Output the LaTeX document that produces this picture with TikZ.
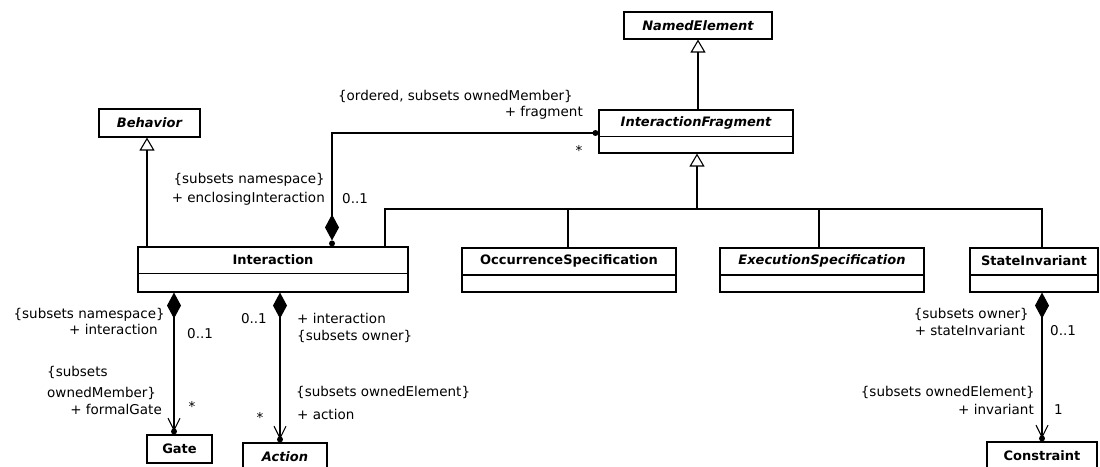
\documentclass[tikz,border=0pt]{standalone}
\usepackage{fontspec}
\setmainfont{DejaVu Sans}
\usetikzlibrary{arrows.meta,calc}
\begin{document}
\begin{tikzpicture}[x=1pt,y=-1pt,
  cls/.style={draw, line width=1.1pt, inner sep=0pt, fill=white},
  cname/.style={inner sep=0pt, font=\fontsize{13}{15}\selectfont\bfseries},
  aname/.style={inner sep=0pt, font=\fontsize{13}{15}\selectfont\bfseries\itshape},
  lbl/.style={inner sep=0pt, text height=9.5pt, text depth=3pt, font=\fontsize{13.5}{16}\selectfont},
  conn/.style={line width=1.1pt},
  gen/.style={conn, -{Triangle[open, length=13pt, width=15pt, line width=1.1pt]}},
  comp/.style={conn, {Diamond[length=26pt, width=14pt]}-{Straight Barb[length=12pt, width=12pt, line width=1.1pt]}, shorten >=3pt},
  dot/.style={circle, fill=black, inner sep=0pt, minimum size=6pt}
]
\useasboundingbox (0,0) rectangle (1100,466);

% ---------- classes ----------
\node[cls, minimum width=148pt, minimum height=27pt] (ne) at (698,25.5) {};
\node[aname] (net) at (ne.center) {NamedElement};

\node[cls, minimum width=101pt, minimum height=28pt] (beh) at (149.5,123) {};
\node[aname] (beht) at (beh.center) {Behavior};

\node[cls, minimum width=194pt, minimum height=43pt] (if) at (696,131.5) {};
\draw[line width=1.1pt] ([yshift=-27pt]if.north west) -- ([yshift=-27pt]if.north east);
\node[aname] (ift) at ([yshift=-13.5pt]if.north) {InteractionFragment};

\node[cls, minimum width=270pt, minimum height=45pt] (ia) at (273,269.5) {};
\draw[line width=1.1pt] ([yshift=-27pt]ia.north west) -- ([yshift=-27pt]ia.north east);
\node[cname] (iat) at ([yshift=-13.5pt]ia.north) {Interaction};

\node[cls, minimum width=214pt, minimum height=44pt] (os) at (569,270) {};
\draw[line width=1.1pt] ([yshift=-27.5pt]os.north west) -- ([yshift=-27.5pt]os.north east);
\node[cname] (ost) at ([yshift=-13.5pt]os.north) {OccurrenceSpecification};

\node[cls, minimum width=204pt, minimum height=44pt] (es) at (822,270) {};
\draw[line width=1.1pt] ([yshift=-27.5pt]es.north west) -- ([yshift=-27.5pt]es.north east);
\node[aname] (est) at ([yshift=-13.5pt]es.north) {ExecutionSpecification};

\node[cls, minimum width=128pt, minimum height=44pt] (si) at (1034,270) {};
\draw[line width=1.1pt] ([yshift=-27.5pt]si.north west) -- ([yshift=-27.5pt]si.north east);
\node[cname] (sit) at ([yshift=-13.5pt]si.north) {StateInvariant};

\node[cls, minimum width=65pt, minimum height=28pt] (ga) at (179.5,449) {};
\node[cname] (gat) at (ga.center) {Gate};

\node[cls, minimum width=84pt, minimum height=28pt] (ac) at (285,457) {};
\node[aname] (act) at (ac.center) {Action};

\node[cls, minimum width=110pt, minimum height=28pt] (co) at (1042,456) {};
\node[cname] (cot) at (co.center) {Constraint};

% ---------- generalizations ----------
\coordinate (bx) at (147,0);
\draw[gen] (ia.north -| bx) -- (beh.south -| bx);
\draw[gen] (ne.south |- if.north) -- (ne.south);

\coordinate (b0) at (697,209);
\coordinate (b1) at (385,209);
\coordinate (b2) at (568,209);
\coordinate (b3) at (819,209);
\coordinate (b4) at (1042,209);
\draw[gen] (b0) -- (b0 |- if.south);
\draw[conn] (b1 |- ia.north) -- (b1) -- (b4) -- (b4 |- si.north);
\draw[conn] (b2) -- (b2 |- os.north);
\draw[conn] (b3) -- (b3 |- es.north);

% ---------- fragment composition ----------
\coordinate (fx) at (332,133);
\node[dot] (fd1) at ([yshift=3pt]ia.north -| fx) {};
\node[dot] (fd2) at ([xshift=-3pt]if.west |- fx) {};
\draw[conn, {Diamond[length=26pt, width=14pt]}-, shorten <=3pt] (fd1.center) -- (fx) -- (fd2.center);

% ---------- gate composition ----------
\coordinate (gx) at (174,0);
\node[dot] (gd) at ([yshift=3pt]ga.north -| gx) {};
\draw[comp] (ia.south -| gx) -- (ga.north -| gx);

% ---------- action composition ----------
\coordinate (ax) at (280,0);
\node[dot] (ad) at ([yshift=3pt]ac.north -| ax) {};
\draw[comp] (ia.south -| ax) -- (ac.north -| ax);

% ---------- constraint composition ----------
\coordinate (cx) at (1042,0);
\node[dot] (cd) at ([yshift=3pt]co.north -| cx) {};
\draw[comp] (si.south -| cx) -- (co.north -| cx);

% ---------- labels ----------
\node[lbl, anchor=east] (l1) at (573,97) {\{ordered, subsets ownedMember\}};
\node[lbl, anchor=east] (l2) at (583,113) {+ fragment};
\node[lbl] (l3) at (579,152) {*};
\node[lbl, anchor=east] (l4) at (325,180) {\{subsets namespace\}};
\node[lbl, anchor=east] (l5) at (325,199) {+ enclosingInteraction};
\node[lbl, anchor=west] (l6) at (342,200) {0..1};

\node[lbl, anchor=east] (l7) at (165,315) {\{subsets namespace\}};
\node[lbl, anchor=east] (l8) at (158,331) {+ interaction};
\node[lbl, anchor=west] (l9) at (187,335) {0..1};
\node[lbl, anchor=west] (l10) at (47,373) {\{subsets};
\node[lbl, anchor=west] (l11) at (47,394) {ownedMember\}};
\node[lbl, anchor=east] (l12) at (162,411) {+ formalGate};
\node[lbl] (l13) at (192,408) {*};

\node[lbl, anchor=east] (l14) at (267,320) {0..1};
\node[lbl, anchor=west] (l15) at (297,320) {+ interaction};
\node[lbl, anchor=west] (l16) at (297,337) {\{subsets owner\}};
\node[lbl, anchor=west] (l17) at (296,393) {\{subsets ownedElement\}};
\node[lbl, anchor=west] (l18) at (297,416) {+ action};
\node[lbl] (l19) at (260,419) {*};

\node[lbl, anchor=east] (l20) at (1029,315) {\{subsets owner\}};
\node[lbl, anchor=east] (l21) at (1025,332) {+ stateInvariant};
\node[lbl, anchor=west] (l22) at (1050,332) {0..1};
\node[lbl, anchor=east] (l23) at (1035,393) {\{subsets ownedElement\}};
\node[lbl, anchor=east] (l24) at (1034,411) {+ invariant};
\node[lbl, anchor=west] (l25) at (1054,411) {1};
\end{tikzpicture}
\end{document}
